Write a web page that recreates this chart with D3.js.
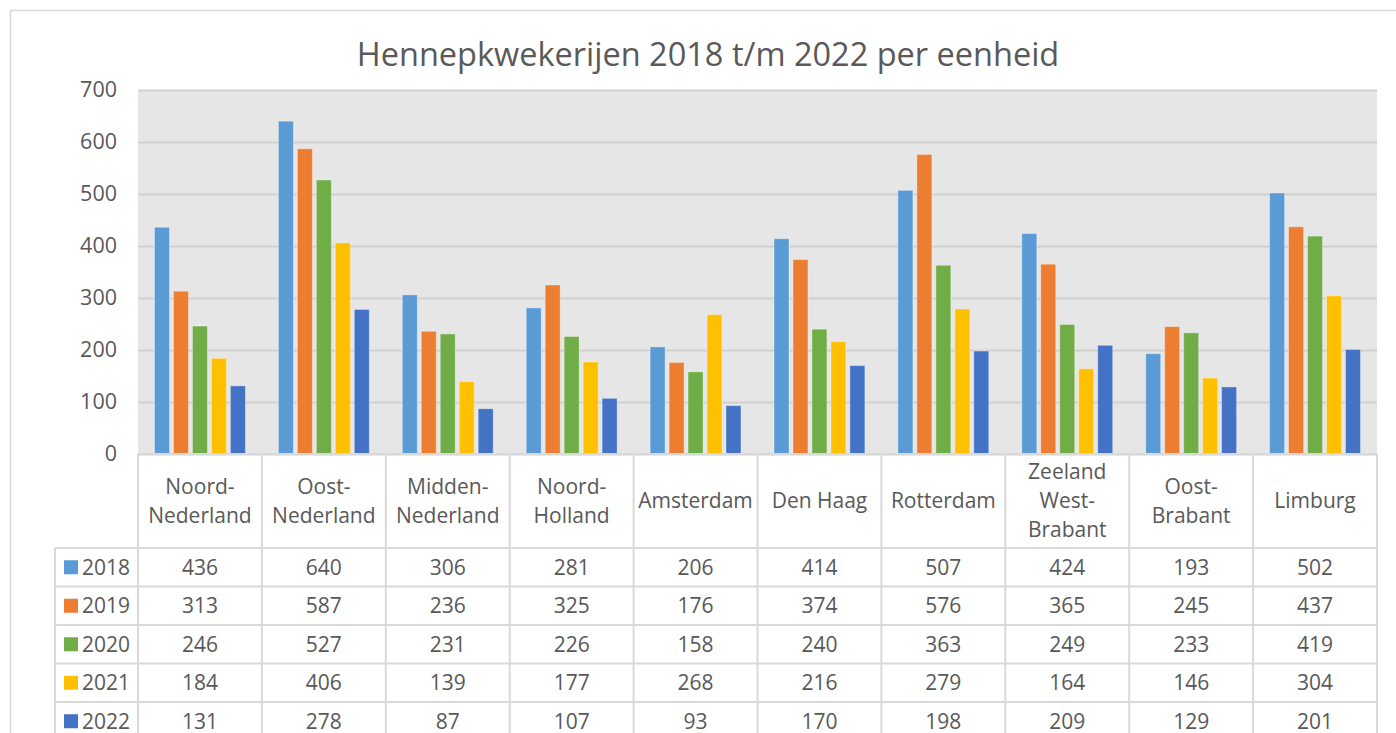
<!DOCTYPE html>
<html>
<head>
<meta charset="utf-8">
<script src="https://cdn.jsdelivr.net/npm/d3@7"></script>
<style>
  body { margin: 0; background: #fff; }
  svg { display: block; font-family: "Open Sans", sans-serif; }
</style>
</head>
<body>
<div id="chart"></div>
<script>
// ----------------------------------------------------------------------------
// Data
// ----------------------------------------------------------------------------

const regions = [
  ["Noord-", "Nederland"],
  ["Oost-", "Nederland"],
  ["Midden-", "Nederland"],
  ["Noord-", "Holland"],
  ["Amsterdam"],
  ["Den Haag"],
  ["Rotterdam"],
  ["Zeeland", "West-", "Brabant"],
  ["Oost-", "Brabant"],
  ["Limburg"]
]

const years = ["2018", "2019", "2020", "2021", "2022"]

const v2018 = [436, 640, 306, 281, 206, 414, 507, 424, 193, 502]
const v2019 = [313, 587, 236, 325, 176, 374, 576, 365, 245, 437]
const v2020 = [246, 527, 231, 226, 158, 240, 363, 249, 233, 419]
const v2021 = [184, 406, 139, 177, 268, 216, 279, 164, 146, 304]
const v2022 = [131, 278, 87, 107, 93, 170, 198, 209, 129, 201]

const yTicks = [0, 100, 200, 300, 400, 500, 600, 700]

const colors = ["#5b9bd5", "#ed7d31", "#70ad47", "#ffc000", "#4472c4"]

const series = [v2018, v2019, v2020, v2021, v2022]

// ----------------------------------------------------------------------------
// Layout
// ----------------------------------------------------------------------------

const width = 1396
const height = 733

const plot = { left: 138, right: 1377, top: 90, bottom: 454 }
const table = { left: 55, headBottom: 548, rowH: 38.5 }

const textColor = "#595959"
const lineColor = "#d9d9d9"

const svg = d3.select("#chart").append("svg")
  .attr("width", width)
  .attr("height", height)

// outer chart frame
svg.append("rect")
  .attr("x", 10.5).attr("y", 10.5)
  .attr("width", width + 20).attr("height", height + 20)
  .attr("fill", "#fff")
  .attr("stroke", lineColor)
  .attr("stroke-width", 1.5)

// title
svg.append("text")
  .attr("x", 708).attr("y", 66)
  .attr("text-anchor", "middle")
  .attr("fill", textColor)
  .style("font-size", "32.5px")
  .text("Hennepkwekerijen 2018 t/m 2022 per eenheid")

// ----------------------------------------------------------------------------
// Scales
// ----------------------------------------------------------------------------

const x0 = d3.scaleBand()
  .domain(d3.range(regions.length))
  .range([plot.left, plot.right])

const x1 = d3.scaleBand()
  .domain(years)
  .range([0, x0.bandwidth()])
  .paddingInner(0.21)
  .paddingOuter(0.87)

const y = d3.scaleLinear()
  .domain([0, 700])
  .range([plot.bottom, plot.top])

// plot background
svg.append("rect")
  .attr("x", plot.left).attr("y", plot.top)
  .attr("width", plot.right - plot.left)
  .attr("height", plot.bottom - plot.top)
  .attr("fill", "#e6e6e6")

// gridlines + y labels
const yAxis = d3.axisLeft(y)
  .tickValues(yTicks)
  .tickSize(-(plot.right - plot.left))
  .tickPadding(21)

svg.append("g")
  .attr("transform", `translate(${plot.left},0)`)
  .call(yAxis)
  .call(g => g.select(".domain").remove())
  .call(g => g.selectAll(".tick line")
    .attr("stroke", "#d0d0d0")
    .attr("stroke-width", 2))
  .call(g => g.selectAll(".tick text")
    .attr("fill", textColor)
    .style("font-size", "21.5px")
    .style("font-family", "'Open Sans', sans-serif"))

// bars
const groups = svg.append("g").selectAll("g")
  .data(regions)
  .join("g")
  .attr("transform", (d, i) => `translate(${x0(i)},0)`)

groups.selectAll("rect")
  .data((d, i) => years.map((yr, s) => ({ yr, s, v: series[s][i] })))
  .join("rect")
  .attr("x", d => x1(d.yr))
  .attr("y", d => y(d.v))
  .attr("width", x1.bandwidth())
  .attr("height", d => y(0) - y(d.v))
  .attr("fill", d => colors[d.s])
  .attr("stroke", "#ffffff")
  .attr("stroke-opacity", 0.35)
  .attr("stroke-width", 1)

// ----------------------------------------------------------------------------
// Data table
// ----------------------------------------------------------------------------

const tbl = svg.append("g")
const tableBottom = height + 5
const rowY = i => table.headBottom + i * table.rowH

// horizontal lines
tbl.append("line")
  .attr("x1", plot.left).attr("x2", plot.right)
  .attr("y1", plot.bottom).attr("y2", plot.bottom)
  .attr("stroke", lineColor).attr("stroke-width", 2)

years.forEach((yr, i) => {
  tbl.append("line")
    .attr("x1", table.left).attr("x2", plot.right)
    .attr("y1", rowY(i)).attr("y2", rowY(i))
    .attr("stroke", lineColor).attr("stroke-width", 2)
})

// vertical lines
tbl.append("line")
  .attr("x1", table.left).attr("x2", table.left)
  .attr("y1", table.headBottom).attr("y2", tableBottom)
  .attr("stroke", lineColor).attr("stroke-width", 2)

d3.range(regions.length + 1).forEach(i => {
  const xx = i < regions.length ? x0(i) : plot.right
  tbl.append("line")
    .attr("x1", xx).attr("x2", xx)
    .attr("y1", plot.bottom).attr("y2", tableBottom)
    .attr("stroke", lineColor).attr("stroke-width", 2)
})

// header: region names
const lineH = 29
const headMid = (plot.bottom + table.headBottom) / 2

regions.forEach((lines, i) => {
  const t = tbl.append("text")
    .attr("text-anchor", "middle")
    .attr("fill", textColor)
    .style("font-size", "21px")
  lines.forEach((ln, k) => {
    t.append("tspan")
      .attr("x", x0(i) + x0.bandwidth() / 2)
      .attr("y", headMid + (k - (lines.length - 1) / 2) * lineH + 7)
      .text(ln)
  })
})

// rows: legend keys + values
years.forEach((yr, s) => {
  const mid = rowY(s) + table.rowH / 2

  tbl.append("rect")
    .attr("x", 64).attr("y", mid - 7)
    .attr("width", 14).attr("height", 14)
    .attr("fill", colors[s])

  tbl.append("text")
    .attr("x", 82).attr("y", mid + 7.5)
    .attr("fill", textColor)
    .style("font-size", "21px")
    .text(yr)

  series[s].forEach((v, i) => {
    tbl.append("text")
      .attr("x", x0(i) + x0.bandwidth() / 2)
      .attr("y", mid + 7.5)
      .attr("text-anchor", "middle")
      .attr("fill", textColor)
      .style("font-size", "21px")
      .text(v)
  })
})
</script>
</body>
</html>
